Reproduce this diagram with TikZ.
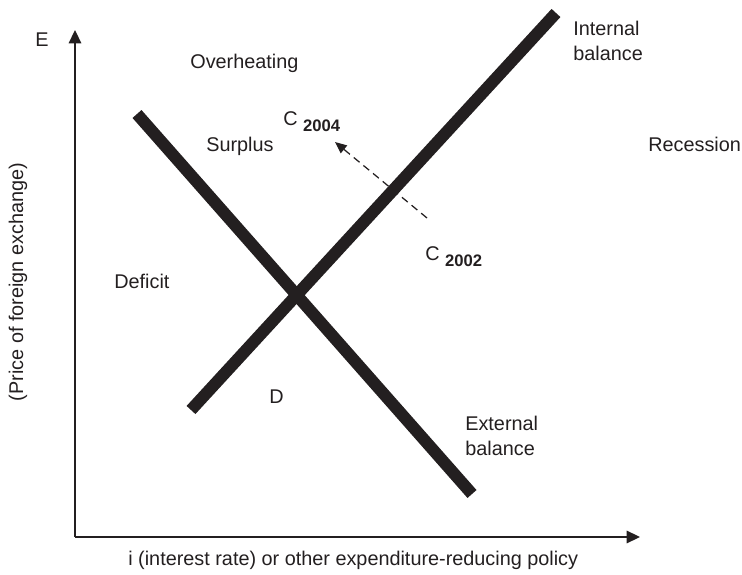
\documentclass[tikz,border=0pt]{standalone}
\usepackage{fontspec}
\setmainfont{Liberation Sans}
\usetikzlibrary{arrows.meta}
\definecolor{ink}{RGB}{35,31,32}
\newcommand{\yr}[1]{\raisebox{-3.5pt}{\fontsize{10}{12}\selectfont\bfseries #1}}

\begin{document}
\begin{tikzpicture}[x=0.6pt, y=-0.6pt,
    every node/.style={inner sep=0pt, text=ink, font=\fontsize{11.9}{15}\selectfont},
    lbl/.style={anchor=base west, align=left},
    axis/.style={-{Triangle[length=8pt,width=7.5pt]}, line width=0.9pt, draw=ink},
    curve/.style={line width=7.2pt, draw=ink},
    move/.style={-{Triangle[length=7pt,width=6pt]}, dash pattern=on 4.5pt off 3pt, line width=0.75pt, draw=ink}]
    \useasboundingbox (0,0) rectangle (742,575);

    \coordinate (origin) at (75,537);
    \coordinate (ytip) at (75,30);
    \coordinate (xtip) at (640,537);
    \coordinate (ext1) at (137,114);
    \coordinate (ext2) at (472,494);
    \coordinate (int1) at (191,410);
    \coordinate (int2) at (556,13);
    \coordinate (c02) at (427,218);
    \coordinate (c04) at (335,142);

    \node (E) at (42,40) {E};
    \node[rotate=90] (ylabel) at (18,282) {(Price of foreign exchange)};
    \node[lbl] (xlabel) at (128,565) {i (interest rate) or other expenditure-reducing policy};

    \node[lbl] (overheat) at (190,69) {Overheating};
    \node[lbl] (surplus) at (206,152) {Surplus};
    \node[lbl] (deficit) at (114,289) {Deficit};
    \node[lbl] (recess) at (648,152) {Recession};
    \node[lbl] (D) at (269,404) {D};
    % base of a two-line node sits on its last line
    \node[lbl] (intbal) at (573,61) {Internal\\balance};
    \node[lbl] (extbal) at (465,456) {External\\balance};
    \node[lbl] (C2004) at (283,126) {C \yr{2004}};
    \node[lbl] (C2002) at (425,261) {C \yr{2002}};

    \draw[axis] (origin) -- (ytip);
    \draw[axis] (origin) -- (xtip);

    \draw[curve] (ext1) -- (ext2);
    \draw[curve] (int1) -- (int2);

    \draw[move] (c02) -- (c04);
\end{tikzpicture}
\end{document}
